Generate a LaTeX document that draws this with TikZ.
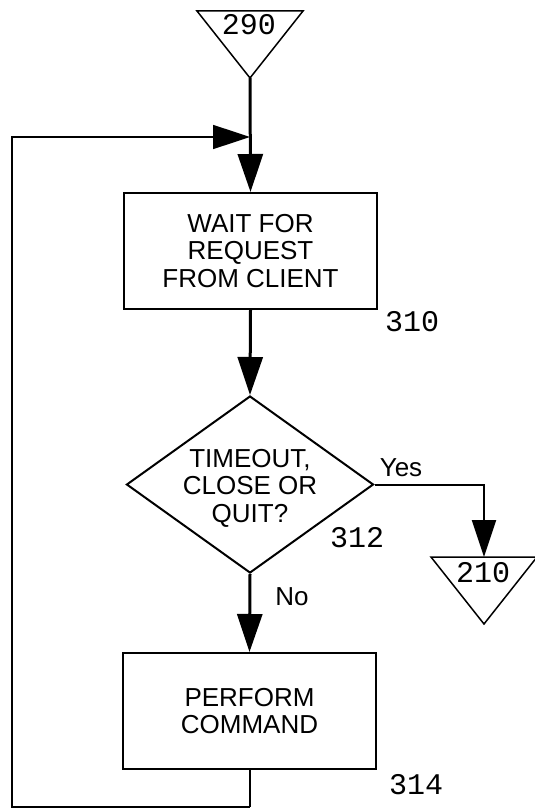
\documentclass[tikz,border=0pt]{standalone}
\usepackage{fontspec}
\setmainfont{Liberation Sans}
\newfontfamily\numfont{Liberation Mono}
\usetikzlibrary{arrows.meta,shapes.geometric}
\begin{document}
\begin{tikzpicture}[x=1pt,y=-1pt,
  box/.style={draw, line width=2pt, minimum width=253pt, minimum height=116pt, inner sep=0pt, align=center, font=\fontsize{26}{27.5}\selectfont},
  decision/.style={draw, diamond, line width=2pt, minimum width=247pt, minimum height=177pt, inner sep=0pt},
  txt/.style={align=center, font=\fontsize{26}{27.5}\selectfont, inner sep=0pt},
  num/.style={font=\numfont\fontsize{30}{30}\selectfont, inner sep=0pt},
  flow/.style={line width=3pt, -{Triangle[length=38pt,width=25pt]}},
  yesflow/.style={line width=2pt, -{Triangle[length=37pt,width=24pt]}},
  backflow/.style={line width=1.6pt, -{Triangle[length=37pt,width=24pt]}},
  tri/.style={line width=1.5pt}]
\useasboundingbox (0,0) rectangle (535,808);

% off-page connector 290
\draw[tri] (197,11) -- (303,11) -- (250,78) -- cycle;
\coordinate (t290) at (250,78);
\node[num] (n290) at (249,25) {290};

% boxes
\node[box] (wait) at (250.5,251) {WAIT FOR\\REQUEST\\FROM CLIENT};
\node[num] (n310) at (412,322) {310};

\node[decision] (dec) at (250,484.5) {};
\node[txt] (dectext) at (250,488) {TIMEOUT,\\CLOSE OR\\QUIT?};
\node[num] (n312) at (357,538) {312};

\node[box] (perf) at (249.5,711) {PERFORM\\COMMAND};
\node[num] (n314) at (416,785) {314};

% off-page connector 210
\draw[tri] (431,557) -- (537,557) -- (484,624) -- cycle;
\coordinate (t210) at (484,557);
\node[num] (n210) at (483,573) {210};

% connectors
\coordinate (join) at (250,137);
\coordinate (bl) at (12,807);
\coordinate (tl) at (12,137);

\draw[flow] (t290) -- (wait.north);
\draw[flow] (wait.south) -- (dec.north);
\draw[flow] (dec.south) -- (perf.north);
\draw[yesflow] (dec.east) -| (t210);
\draw[line width=2pt] (perf.south) -- (perf.south |- bl);
\draw[backflow] (perf.south |- bl) -- (bl) -- (tl) -- (join);

% labels
\node[txt] (yes) at (401,468) {Yes};
\node[txt] (no) at (292,597) {No};
\end{tikzpicture}
\end{document}
